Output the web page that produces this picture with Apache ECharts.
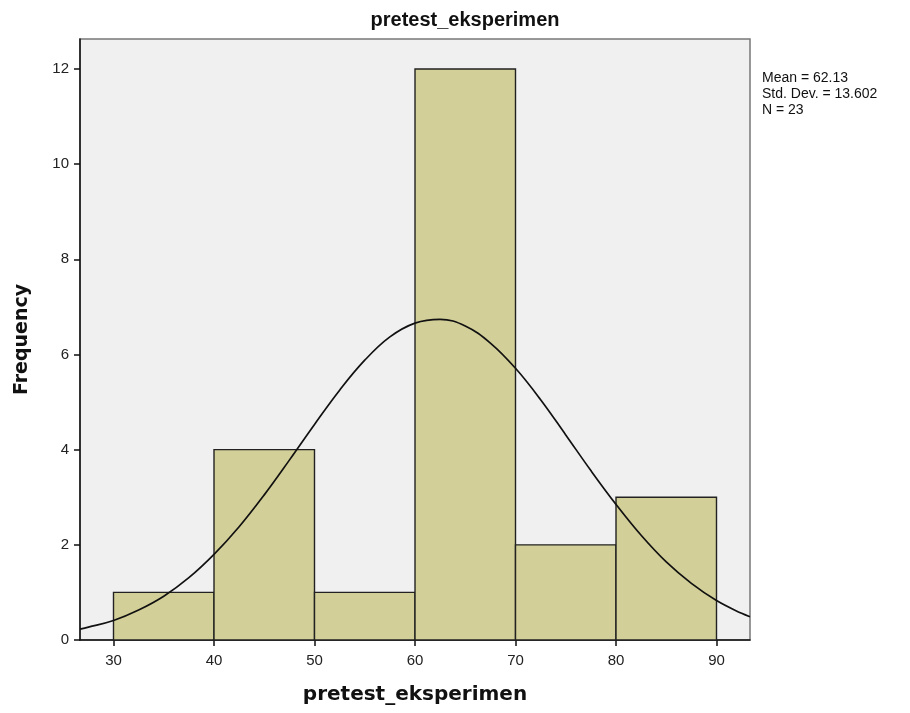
<!DOCTYPE html>
<html>
<head>
<meta charset="utf-8">
<script src="https://cdn.jsdelivr.net/npm/echarts@6/dist/echarts.min.js"></script>
<style>html,body{margin:0;padding:0;background:#fff}#c{width:910px;height:713px}</style>
</head>
<body>
<div id="c"></div>
<script>
// Histogram bins: [lower, upper, frequency]
var binLower = [30, 40, 50, 60, 70, 80];
var binUpper = [40, 50, 60, 70, 80, 90];
var frequency = [1, 4, 1, 12, 2, 3];
// Normal curve
var curveX = [26.67, 27.5, 30, 32.5, 35, 37.5, 40, 42.5, 45, 47.5, 50, 52.5, 55, 57.5, 60, 62.5, 65, 67.5, 70, 72.5, 75, 77.5, 80, 82.5, 85, 87.5, 90, 92.5, 93.33];
var curveY = [0.23, 0.27, 0.41, 0.63, 0.92, 1.31, 1.80, 2.38, 3.05, 3.78, 4.53, 5.25, 5.88, 6.37, 6.66, 6.74, 6.60, 6.24, 5.71, 5.05, 4.31, 3.56, 2.85, 2.20, 1.64, 1.19, 0.83, 0.56, 0.49];
var xTicks = [30, 40, 50, 60, 70, 80, 90];
var yTicks = [0, 2, 4, 6, 8, 10, 12];
var statsLines = ['Mean = 62.13', 'Std. Dev. = 13.602', 'N = 23'];

var barData = binLower.map(function (l, i) { return [l, binUpper[i], frequency[i]]; });
var curveData = curveX.map(function (x, i) { return [x, curveY[i]]; });

var chart = echarts.init(document.getElementById('c'));
chart.setOption({
  animation: false,
  backgroundColor: '#ffffff',
  title: {
    text: 'pretest_eksperimen',
    left: 460, top: 5, textAlign: 'center',
    textStyle: { fontFamily: 'Liberation Sans', fontWeight: 'bold', fontSize: 20, color: '#111' }
  },
  grid: {
    left: 80, right: 160, top: 39, bottom: 73,
    outerBoundsMode: 'none', containLabel: false,
    show: true, backgroundColor: '#f0f0f0', borderColor: '#777', borderWidth: 1.5
  },
  xAxis: {
    type: 'value', min: 26.667, max: 93.333,
    name: 'pretest_eksperimen', nameLocation: 'middle', nameGap: 45,
    nameTextStyle: { fontFamily: 'DejaVu Sans', fontWeight: 'bold', fontSize: 20, color: '#111' },
    splitLine: { show: false },
    axisLine: { show: true, onZero: false, lineStyle: { color: '#111', width: 1.5 } },
    axisTick: { show: true, length: 6, customValues: xTicks, lineStyle: { color: '#111', width: 1.5 } },
    axisLabel: { customValues: xTicks, fontFamily: 'Liberation Sans', fontSize: 15, color: '#222', margin: 13 }
  },
  yAxis: {
    type: 'value', min: 0, max: 12.63,
    name: 'Frequency', nameLocation: 'middle', nameGap: 48, nameRotate: 90,
    nameTextStyle: { fontFamily: 'DejaVu Sans', fontWeight: 'bold', fontSize: 19, color: '#111' },
    splitLine: { show: false },
    axisLine: { show: true, onZero: false, lineStyle: { color: '#111', width: 1.5 } },
    axisTick: { show: true, length: 6, customValues: yTicks, lineStyle: { color: '#111', width: 1.5 } },
    axisLabel: { customValues: yTicks, fontFamily: 'Liberation Sans', fontSize: 15, color: '#222', margin: 11 }
  },
  graphic: [{
    type: 'text', left: 762, top: 70,
    style: { text: statsLines.join('\n'), fontFamily: 'Liberation Sans', fontSize: 14, lineHeight: 16, fill: '#111' }
  }],
  series: [{
    type: 'custom',
    data: barData,
    encode: { x: [0, 1], y: 2 },
    renderItem: function (params, api) {
      var p0 = api.coord([api.value(0), 0]);
      var p1 = api.coord([api.value(1), api.value(2)]);
      return {
        type: 'rect',
        shape: { x: p0[0], y: p1[1], width: p1[0] - p0[0], height: p0[1] - p1[1] },
        style: { fill: '#d3cf98', stroke: '#222', lineWidth: 1.4 }
      };
    },
    z: 2
  }, {
    type: 'line',
    data: curveData,
    smooth: 0.4,
    showSymbol: false,
    lineStyle: { color: '#111', width: 1.7 },
    z: 3
  }]
});
</script>
</body>
</html>
